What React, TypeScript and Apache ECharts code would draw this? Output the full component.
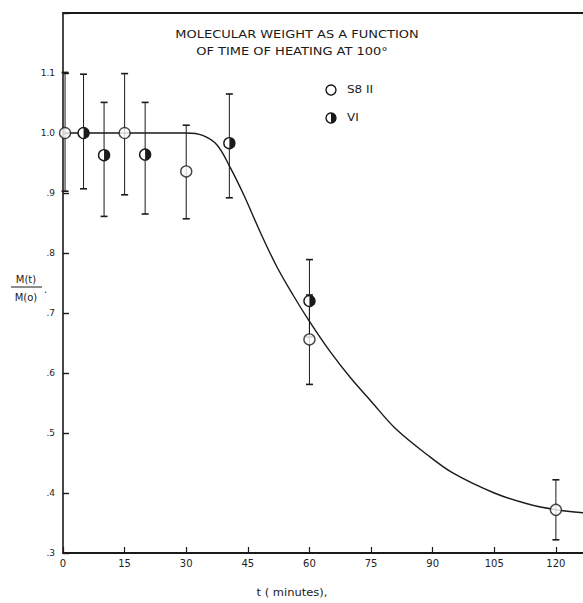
import React, { useEffect, useRef } from "react";
import * as echarts from "echarts";

// S8 II (open circles)
const s8T = [0.5, 15, 30, 60, 120];
const s8V = [1.0, 1.0, 0.936, 0.656, 0.372];
const s8Lo = [0.903, 0.897, 0.857, 0.581, 0.322];
const s8Hi = [1.101, 1.099, 1.013, 0.73, 0.422];

// VI (half-filled circles)
const v1T = [5, 10, 20, 40.5, 60];
const v1V = [1.0, 0.963, 0.964, 0.983, 0.72];
const v1Lo = [0.907, 0.861, 0.865, 0.892, 0.66];
const v1Hi = [1.098, 1.051, 1.051, 1.065, 0.789];

// fitted curve
const curveT = [0, 30, 34, 37.5, 40.6, 44, 48, 52, 56, 60, 65, 70, 75, 81, 89, 95, 105, 113, 120, 126.6];
const curveV = [1.0, 1.0, 0.996, 0.98, 0.944, 0.897, 0.835, 0.778, 0.73, 0.686, 0.636, 0.592, 0.553, 0.507, 0.462, 0.433, 0.4, 0.382, 0.372, 0.367];

const xTicks = [0, 15, 30, 45, 60, 75, 90, 105, 120];
const yTicks = [0.3, 0.4, 0.5, 0.6, 0.7, 0.8, 0.9, 1.0, 1.1];

const INK = "#1a1a1a";

export default function App() {
  const ref = useRef<HTMLDivElement>(null);
  useEffect(() => {
    if (!ref.current) return;
    const chart = echarts.init(ref.current, undefined, { renderer: "svg" });

    const errData = [
      ...s8T.map((t, i) => [t, s8Lo[i], s8Hi[i]]),
      ...v1T.map((t, i) => [t, v1Lo[i], v1Hi[i]]),
    ];

    const halfMarker = (cx: number, cy: number, r: number) => ({
      type: "group",
      children: [
        { type: "circle", shape: { cx, cy, r }, style: { fill: "#fff", stroke: INK, lineWidth: 1.4 } },
        {
          type: "sector",
          shape: { cx, cy, r0: 0, r, startAngle: -Math.PI / 2, endAngle: Math.PI / 2, clockwise: true },
          style: { fill: INK },
        },
      ],
    });

    const option: any = {
      animation: false,
      backgroundColor: "#fff",
      grid: { left: 63, right: 0, top: 13, bottom: 50, containLabel: false },
      xAxis: [
        {
          type: "value",
          min: 0,
          max: 126.6,
          interval: 15,
          position: "bottom",
          splitLine: { show: false },
          axisLine: { show: true, onZero: false, lineStyle: { color: INK, width: 1.8 } },
          axisTick: {
            show: true,
            inside: true,
            length: 6,
            lineStyle: { color: INK, width: 1.2 },
          },
          axisLabel: {
            showMaxLabel: false,
            margin: 5,
            fontSize: 10,
            fontFamily: "DejaVu Sans",
            color: "#222",
            formatter: (v: number) => (xTicks.includes(Math.round(v * 10) / 10) ? String(v) : ""),
          },
        },
        {
          type: "value",
          min: 0,
          max: 126.6,
          position: "top",
          axisLine: { show: true, onZero: false, lineStyle: { color: INK, width: 1.8 } },
          axisTick: { show: false },
          axisLabel: { show: false },
          splitLine: { show: false },
        },
      ],
      yAxis: {
        type: "value",
        min: 0.3,
        max: 1.2,
        interval: 0.1,
        splitLine: { show: false },
        axisLine: { show: true, onZero: false, lineStyle: { color: INK, width: 1.6 } },
        axisTick: { show: true, inside: true, length: 6, lineStyle: { color: INK, width: 1.4 } },
        axisLabel: {
          margin: 8,
          fontSize: 9,
          fontFamily: "DejaVu Sans",
          color: "#222",
          formatter: (v: number) => {
            const r = Math.round(v * 10) / 10;
            if (!yTicks.some((t) => Math.abs(t - r) < 1e-6)) return "";
            const s = r.toFixed(1);
            return s.startsWith("0") ? s.slice(1) : s;
          },
        },
      },
      series: [
        {
          type: "line",
          data: curveT.map((t, i) => [t, curveV[i]]),
          smooth: 0.35,
          symbol: "none",
          lineStyle: { color: INK, width: 1.4 },
          z: 2,
        },
        {
          type: "custom",
          data: errData,
          encode: { x: 0, y: [1, 2] },
          z: 3,
          renderItem: (params: any, api: any) => {
            const x = api.value(0);
            const lo = api.coord([x, api.value(1)]);
            const hi = api.coord([x, api.value(2)]);
            const w = 3.5;
            return {
              type: "group",
              children: [
                { type: "line", shape: { x1: lo[0], y1: lo[1], x2: hi[0], y2: hi[1] }, style: { stroke: INK, lineWidth: 1 } },
                { type: "line", shape: { x1: lo[0] - w, y1: lo[1], x2: lo[0] + w, y2: lo[1] }, style: { stroke: INK, lineWidth: 1.6 } },
                { type: "line", shape: { x1: hi[0] - w, y1: hi[1], x2: hi[0] + w, y2: hi[1] }, style: { stroke: INK, lineWidth: 1.6 } },
              ],
            };
          },
        },
        {
          type: "scatter",
          name: "S8 II",
          data: s8T.map((t, i) => [t, s8V[i]]),
          symbol: "circle",
          symbolSize: 11,
          itemStyle: { color: "#fff", borderColor: INK, borderWidth: 1.4 },
          z: 5,
        },
        {
          type: "custom",
          name: "VI",
          data: v1T.map((t, i) => [t, v1V[i]]),
          encode: { x: 0, y: 1 },
          z: 5,
          renderItem: (params: any, api: any) => {
            const p = api.coord([api.value(0), api.value(1)]);
            return halfMarker(p[0], p[1], 5.5);
          },
        },
      ],
      graphic: [
        {
          type: "text",
          x: 297,
          y: 35,
          scaleX: 1.3,
          style: {
            text: "MOLECULAR WEIGHT AS A FUNCTION",
            fontSize: 10,
            fontFamily: "DejaVu Sans",
            fill: "#1a1a1a",
            align: "center",
            verticalAlign: "middle",
          },
        },
        {
          type: "text",
          x: 292,
          y: 52,
          scaleX: 1.3,
          style: {
            text: "OF TIME OF HEATING AT 100°",
            fontSize: 10,
            fontFamily: "DejaVu Sans",
            fill: "#1a1a1a",
            align: "center",
            verticalAlign: "middle",
          },
        },
        { type: "circle", shape: { cx: 331, cy: 90, r: 5 }, style: { fill: "#fff", stroke: INK, lineWidth: 1.4 } },
        {
          type: "text",
          x: 347,
          y: 90,
          scaleX: 1.2,
          style: { text: "S8 II", fontSize: 10, fontFamily: "DejaVu Sans", fill: "#1a1a1a", align: "left", verticalAlign: "middle" },
        },
        { type: "circle", shape: { cx: 331, cy: 118, r: 5 }, style: { fill: "#fff", stroke: INK, lineWidth: 1.4 } },
        {
          type: "sector",
          shape: { cx: 331, cy: 118, r0: 0, r: 5, startAngle: -Math.PI / 2, endAngle: Math.PI / 2, clockwise: true },
          style: { fill: INK },
        },
        {
          type: "text",
          x: 347,
          y: 118,
          scaleX: 1.2,
          style: { text: "VI", fontSize: 10, fontFamily: "DejaVu Sans", fill: "#1a1a1a", align: "left", verticalAlign: "middle" },
        },
        {
          type: "text",
          x: 26,
          y: 279,
          style: { text: "M(t)", fontSize: 10, fontFamily: "DejaVu Sans", fill: "#1a1a1a", align: "center", verticalAlign: "middle" },
        },
        { type: "line", shape: { x1: 11, y1: 287, x2: 42, y2: 287 }, style: { stroke: INK, lineWidth: 1 } },
        {
          type: "text",
          x: 26,
          y: 297,
          style: { text: "M(o)", fontSize: 10, fontFamily: "DejaVu Sans", fill: "#1a1a1a", align: "center", verticalAlign: "middle" },
        },
        {
          type: "text",
          x: 44,
          y: 289,
          style: { text: ".", fontSize: 10, fontFamily: "DejaVu Sans", fill: "#1a1a1a", align: "left", verticalAlign: "middle" },
        },
        {
          type: "text",
          x: 292,
          y: 593,
          scaleX: 1.15,
          style: { text: "t ( minutes),", fontSize: 10, fontFamily: "DejaVu Sans", fill: "#1a1a1a", align: "center", verticalAlign: "middle" },
        },
      ],
    };
    chart.setOption(option);
    return () => chart.dispose();
  }, []);
  return <div ref={ref} style={{ position: "fixed", left: 0, top: 0, width: 583, height: 603 }} />;
}
